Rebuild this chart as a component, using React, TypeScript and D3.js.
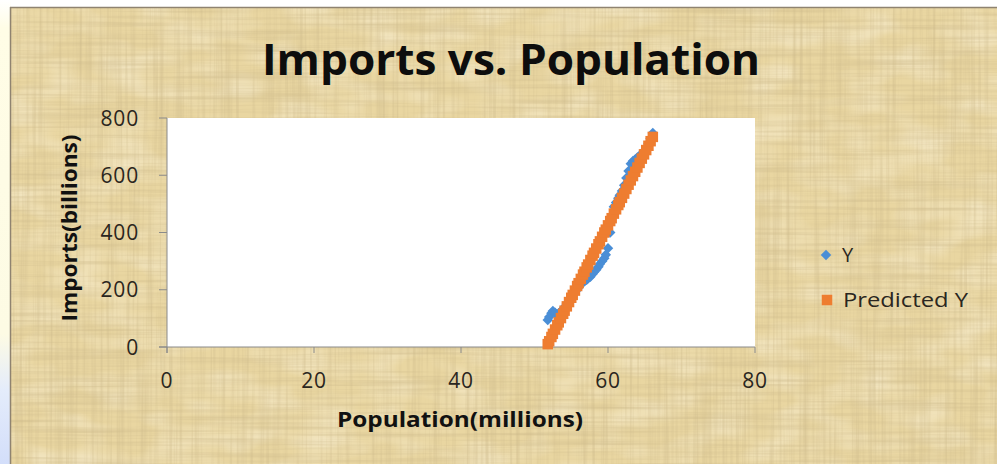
import React from "react";
import * as d3 from "d3";

// Population (millions) for each observation
const population = [
  51.8, 52.0, 52.3, 52.5, 52.8, 53.1, 53.3, 53.6, 53.9, 54.1, 54.4, 54.7, 55.0,
  55.2, 55.5, 55.8, 56.0, 56.3, 56.6, 56.8, 57.1, 57.3, 57.6, 57.9, 58.1, 58.4,
  58.7, 58.9, 59.2, 59.5, 59.7, 60.0, 60.3, 60.5, 60.8, 61.1, 61.4, 61.6, 61.9,
  62.2, 62.5, 62.8, 63.1, 63.4, 63.7, 64.0, 64.3, 64.6, 64.9, 65.2, 65.5, 65.8,
  66.1,
];

// Observed imports (billions)
const importsY = [
  94, 105, 118, 126, 120, 112, 118, 125, 132, 140, 150, 160, 172, 180, 192, 200,
  208, 220, 225, 230, 235, 240, 245, 255, 262, 270, 280, 290, 300, 310, 322, 345,
  400, 455, 490, 505, 520, 530, 545, 565, 590, 615, 640, 650, 655, 662, 668, 675,
  685, 695, 710, 728, 748,
];

// Fitted imports from the regression (billions)
const predictedY = [
  10, 20, 35, 46, 61, 76, 86, 101, 116, 127, 142, 157, 172, 182, 197, 213, 223,
  238, 253, 263, 278, 288, 304, 319, 329, 344, 359, 369, 385, 400, 410, 425, 440,
  450, 466, 481, 496, 506, 521, 536, 552, 567, 582, 597, 612, 627, 643, 658, 673,
  688, 703, 719, 734,
];

const xTicks = [0, 20, 40, 60, 80];
const yTicks = [0, 200, 400, 600, 800];

const W = 997;
const H = 464;
const plot = { left: 167, right: 755, top: 118, bottom: 347 };
const FONT = "'Open Sans', 'Noto Sans', sans-serif";
const BLUE = "#4a8ed6";
const ORANGE = "#ee7d30";
const TEXT = "#2a2620";
const AXIS = "#8a8a8a";

export default function App() {
  const x = d3.scaleLinear().domain([0, 80]).range([plot.left, plot.right]);
  const y = d3.scaleLinear().domain([0, 800]).range([plot.bottom, plot.top]);
  const diamond = d3.symbol().type(d3.symbolDiamond2).size(70)() as string;
  const square = d3.symbol().type(d3.symbolSquare).size(110)() as string;

  return (
    <svg
      width={W}
      height={H}
      style={{ position: "absolute", left: 0, top: 0, display: "block" }}
    >
      <defs>
        <linearGradient id="strip" x1="0" y1="0" x2="0" y2="1">
          <stop offset="0" stopColor="#ffffff" />
          <stop offset="0.06" stopColor="#fffde6" />
          <stop offset="0.72" stopColor="#fdfbe4" />
          <stop offset="0.84" stopColor="#e4ecfb" />
          <stop offset="1" stopColor="#d3defa" />
        </linearGradient>
        <filter id="fibresH" x="0" y="0" width="100%" height="100%">
          <feTurbulence type="fractalNoise" baseFrequency="0.006 0.3" numOctaves={3} seed={4} />
          <feColorMatrix
            type="matrix"
            values="0 0 0 0 0.6  0 0 0 0 0.48  0 0 0 0 0.25  1.0 0 0 0 -0.4"
          />
        </filter>
        <filter id="fibresV" x="0" y="0" width="100%" height="100%">
          <feTurbulence type="fractalNoise" baseFrequency="0.3 0.006" numOctaves={3} seed={9} />
          <feColorMatrix
            type="matrix"
            values="0 0 0 0 0.6  0 0 0 0 0.48  0 0 0 0 0.25  1.0 0 0 0 -0.42"
          />
        </filter>
        <filter id="blotches" x="0" y="0" width="100%" height="100%">
          <feTurbulence type="fractalNoise" baseFrequency="0.02 0.04" numOctaves={2} seed={21} />
          <feColorMatrix
            type="matrix"
            values="0 0 0 0 1  0 0 0 0 0.96  0 0 0 0 0.84  0.9 0 0 0 -0.35"
          />
        </filter>
      </defs>

      {/* page margin strip */}
      <rect x={0} y={0} width={W} height={H} fill="#ffffff" />
      <rect x={0} y={0} width={11} height={H} fill="url(#strip)" />

      {/* papyrus chart background */}
      <g>
        <rect x={10} y={7} width={W - 10} height={H - 7} fill="#e9d6a1" />
        <rect x={10} y={7} width={W - 10} height={H - 7} filter="url(#blotches)" />
        <rect x={10} y={7} width={W - 10} height={H - 7} filter="url(#fibresH)" />
        <rect x={10} y={7} width={W - 10} height={H - 7} filter="url(#fibresV)" />
        <line x1={10} y1={7.5} x2={W} y2={7.5} stroke="#8f8370" strokeWidth={1.5} />
        <line x1={10.5} y1={7} x2={10.5} y2={H} stroke="#8f8370" strokeWidth={1.5} />
      </g>

      {/* title */}
      <text
        x={511}
        y={75}
        textAnchor="middle"
        fontFamily={FONT}
        fontWeight={700}
        fontSize={43}
        textLength={498}
        lengthAdjust="spacingAndGlyphs"
        fill="#0d0d0d"
      >
        Imports vs. Population
      </text>

      {/* plot area */}
      <rect
        x={plot.left}
        y={plot.top}
        width={plot.right - plot.left}
        height={plot.bottom - plot.top}
        fill="#ffffff"
      />

      {/* axes */}
      <line x1={plot.left} y1={plot.top} x2={plot.left} y2={plot.bottom + 6} stroke={AXIS} />
      <line x1={plot.left - 8} y1={plot.bottom} x2={plot.right} y2={plot.bottom} stroke={AXIS} />
      {yTicks.map((t) => (
        <g key={`y${t}`}>
          <line x1={plot.left - 8} x2={plot.left} y1={y(t)} y2={y(t)} stroke={AXIS} />
          <text
            x={139}
            y={y(t)}
            dy="0.36em"
            textAnchor="end"
            fontFamily={FONT}
            fontSize={21}
            letterSpacing={0.8}
            fill={TEXT}
          >
            {t}
          </text>
        </g>
      ))}
      {xTicks.map((t) => (
        <g key={`x${t}`}>
          <line x1={x(t)} x2={x(t)} y1={plot.bottom} y2={plot.bottom + 6} stroke={AXIS} />
          <text
            x={x(t)}
            y={388}
            textAnchor="middle"
            fontFamily={FONT}
            fontSize={21}
            letterSpacing={0.8}
            fill={TEXT}
          >
            {t}
          </text>
        </g>
      ))}

      {/* axis titles */}
      <text
        transform={`translate(77, 228) rotate(-90)`}
        textAnchor="middle"
        fontFamily={FONT}
        fontWeight={700}
        fontSize={21}
        textLength={187}
        lengthAdjust="spacingAndGlyphs"
        fill="#111"
      >
        Imports(billions)
      </text>
      <text
        x={460}
        y={427}
        textAnchor="middle"
        fontFamily={FONT}
        fontWeight={700}
        fontSize={21}
        textLength={246}
        lengthAdjust="spacingAndGlyphs"
        fill="#111"
      >
        Population(millions)
      </text>

      {/* observed series */}
      <g>
        {population.map((p, i) => (
          <path
            key={`o${i}`}
            d={diamond}
            transform={`translate(${x(p)}, ${y(importsY[i])})`}
            fill={BLUE}
          />
        ))}
      </g>
      {/* fitted series */}
      <g>
        {population.map((p, i) => (
          <path
            key={`p${i}`}
            d={square}
            transform={`translate(${x(p)}, ${y(predictedY[i])})`}
            fill={ORANGE}
          />
        ))}
      </g>

      {/* legend */}
      <path d={diamond} transform="translate(826, 255)" fill={BLUE} />
      <text x={842} y={255} dy="0.36em" fontFamily={FONT} fontSize={20} fill={TEXT}>
        Y
      </text>
      <path d={square} transform="translate(827, 300)" fill={ORANGE} />
      <text
        x={843}
        y={300}
        dy="0.36em"
        fontFamily={FONT}
        fontSize={20}
        textLength={125}
        lengthAdjust="spacingAndGlyphs"
        fill={TEXT}
      >
        Predicted Y
      </text>
    </svg>
  );
}
